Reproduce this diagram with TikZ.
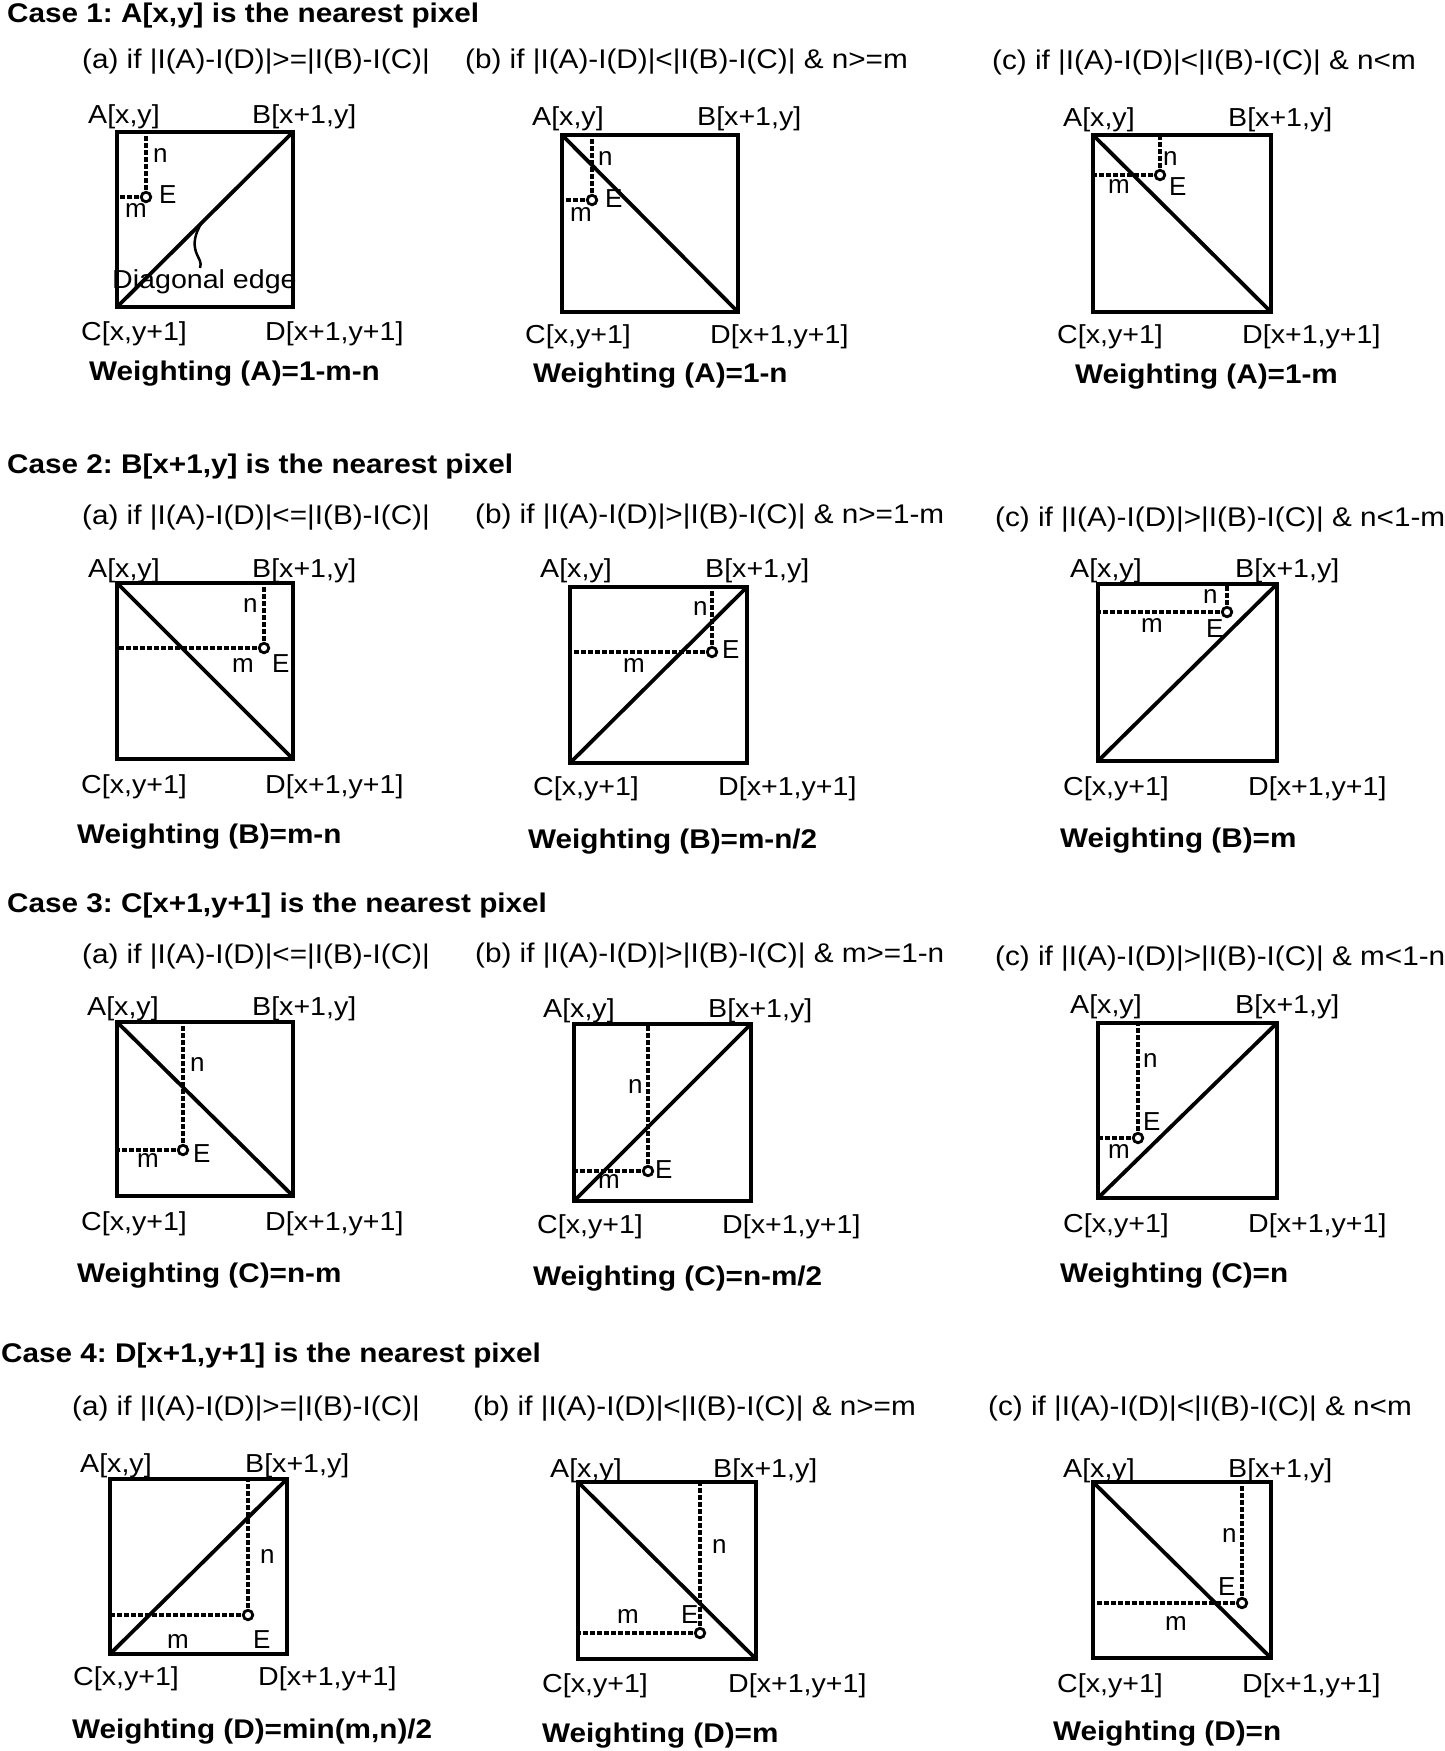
\documentclass[tikz,border=0pt]{standalone}
\usepackage{fontspec}
\setmainfont{Liberation Sans}[FakeStretch=1.1]
\newfontfamily\plainsans{Liberation Sans}
\usetikzlibrary{calc}
\begin{document}
\frenchspacing
\begin{tikzpicture}[x=1pt,y=-1pt]
\tikzset{
  sqbox/.style={line width=4pt, line join=miter},
  diag/.style={line width=3.8pt, line cap=round},
  dline/.style={line width=3.4pt, dash pattern=on 5pt off 2pt},
  epoint/.style={circle, draw, line width=2.8pt, fill=white, inner sep=0pt, minimum size=9.5pt},
  ttl/.style={anchor=base west, inner sep=0pt, font=\fontsize{27}{32}\selectfont\bfseries},
  subcap/.style={anchor=base west, inner sep=0pt, font=\fontsize{27}{32}\selectfont},
  lbl/.style={anchor=base west, inner sep=0pt, font=\fontsize{26}{30}\selectfont},
  wgt/.style={anchor=base west, inner sep=0pt, font=\fontsize{27}{32}\selectfont\bfseries},
  sml/.style={anchor=base west, inner sep=0pt, font=\plainsans\fontsize{26}{30}\selectfont},
  leader/.style={line width=2.5pt}
}
\newcommand{\Panel}[9]{%
  \coordinate (#1-A) at (#2,#3);
  \coordinate (#1-B) at (#4,#3);
  \coordinate (#1-C) at (#2,#5);
  \coordinate (#1-D) at (#4,#5);
  \coordinate (#1-e) at (#8,#9);
  \draw[dline] (#1-e) -- (#1-e |- #1-A);
  \draw[dline] (#1-e) -- (#1-e -| #1-A);
  \draw[sqbox] (#1-A) rectangle (#1-D);
  \draw[diag] (#1-#6) -- (#1-#7);
  \node[epoint] (#1-E) at (#1-e) {};
}
\newcommand{\Corners}[7]{%
  \node[lbl] (#1-lA) at (#2,#3) {A[x,y]};
  \node[lbl] (#1-lB) at (#4,#3) {B[x+1,y]};
  \node[lbl] (#1-lC) at (#5,#6) {C[x,y+1]};
  \node[lbl] (#1-lD) at (#7,#6) {D[x+1,y+1]};
}
\newcommand{\NME}[7]{%
  \node[sml] (#1-n) at (#2,#3) {n};
  \node[sml] (#1-m) at (#4,#5) {m};
  \node[sml] (#1-lE) at (#6,#7) {E};
}
\fill[white] (0,0) rectangle (1445,1751);
\useasboundingbox (0,0) rectangle (1445,1751);

% ---------------- Case 1 ----------------
\node[ttl] (t1) at (7,22) {Case 1: A[x,y] is the nearest pixel};

\node[subcap] (p1a-s) at (82,68) {(a) if |I(A)-I(D)|>=|I(B)-I(C)|};
\Panel{p1a}{117}{132}{293}{307}{C}{B}{146}{197}
\Corners{p1a}{88}{123}{252}{81}{340}{265}
\NME{p1a}{153}{162}{125}{217}{159}{203}
\node[lbl] (p1a-dg) at (112,288) {Diagonal edge};
\coordinate (p1a-q) at ($(p1a-C)!0.48!(p1a-B)$);
\coordinate (p1a-r) at (200,268);
\draw[leader] (p1a-q) .. controls (195,234) and (193,243) .. (196,252) .. controls (199,260) and (202,262) .. (p1a-r);
\node[wgt] (p1a-w) at (89,380) {Weighting (A)=1-m-n};

\node[subcap] (p1b-s) at (465,68) {(b) if |I(A)-I(D)|<|I(B)-I(C)| \& n>=m};
\Panel{p1b}{562}{135}{738}{312}{A}{D}{592}{200}
\Corners{p1b}{532}{125}{697}{525}{343}{710}
\NME{p1b}{598}{165}{570}{221}{605}{207}
\node[wgt] (p1b-w) at (533,382) {Weighting (A)=1-n};

\node[subcap] (p1c-s) at (992,69) {(c) if |I(A)-I(D)|<|I(B)-I(C)| \& n<m};
\Panel{p1c}{1093}{135}{1271}{312}{A}{D}{1160}{175}
\Corners{p1c}{1063}{126}{1228}{1057}{343}{1242}
\NME{p1c}{1163}{165}{1108}{193}{1169}{195}
\node[wgt] (p1c-w) at (1075,383) {Weighting (A)=1-m};

% ---------------- Case 2 ----------------
\node[ttl] (t2) at (7,473) {Case 2: B[x+1,y] is the nearest pixel};

\node[subcap] (p2a-s) at (82,524) {(a) if |I(A)-I(D)|<=|I(B)-I(C)|};
\Panel{p2a}{117}{583}{293}{759}{A}{D}{264}{648}
\Corners{p2a}{88}{577}{252}{81}{793}{265}
\NME{p2a}{243}{612}{232}{672}{272}{672}
\node[wgt] (p2a-w) at (77,843) {Weighting (B)=m-n};

\node[subcap] (p2b-s) at (475,523) {(b) if |I(A)-I(D)|>|I(B)-I(C)| \& n>=1-m};
\Panel{p2b}{570}{587}{747}{763}{C}{B}{712}{652}
\Corners{p2b}{540}{577}{705}{533}{795}{718}
\NME{p2b}{693}{615}{623}{672}{722}{658}
\node[wgt] (p2b-w) at (528,848) {Weighting (B)=m-n/2};

\node[subcap] (p2c-s) at (995,526) {(c) if |I(A)-I(D)|>|I(B)-I(C)| \& n<1-m};
\Panel{p2c}{1098}{584}{1277}{761}{C}{B}{1227}{612}
\Corners{p2c}{1070}{577}{1235}{1063}{795}{1248}
\NME{p2c}{1203}{603}{1141}{632}{1206}{637}
\node[wgt] (p2c-w) at (1060,847) {Weighting (B)=m};

% ---------------- Case 3 ----------------
\node[ttl] (t3) at (7,912) {Case 3: C[x+1,y+1] is the nearest pixel};

\node[subcap] (p3a-s) at (82,963) {(a) if |I(A)-I(D)|<=|I(B)-I(C)|};
\Panel{p3a}{117}{1022}{293}{1196}{A}{D}{183}{1150}
\Corners{p3a}{87}{1015}{252}{81}{1230}{265}
\NME{p3a}{190}{1071}{137}{1167}{193}{1162}
\node[wgt] (p3a-w) at (77,1282) {Weighting (C)=n-m};

\node[subcap] (p3b-s) at (475,962) {(b) if |I(A)-I(D)|>|I(B)-I(C)| \& m>=1-n};
\Panel{p3b}{574}{1024}{751}{1201}{C}{B}{648}{1171}
\Corners{p3b}{543}{1017}{708}{537}{1233}{722}
\NME{p3b}{628}{1093}{598}{1188}{655}{1178}
\node[wgt] (p3b-w) at (533,1285) {Weighting (C)=n-m/2};

\node[subcap] (p3c-s) at (995,965) {(c) if |I(A)-I(D)|>|I(B)-I(C)| \& m<1-n};
\Panel{p3c}{1098}{1023}{1277}{1198}{C}{B}{1138}{1138}
\Corners{p3c}{1070}{1013}{1235}{1063}{1232}{1248}
\NME{p3c}{1143}{1067}{1108}{1158}{1143}{1130}
\node[wgt] (p3c-w) at (1060,1282) {Weighting (C)=n};

% ---------------- Case 4 ----------------
\node[ttl] (t4) at (1,1362) {Case 4: D[x+1,y+1] is the nearest pixel};

\node[subcap] (p4a-s) at (72,1415) {(a) if |I(A)-I(D)|>=|I(B)-I(C)|};
\Panel{p4a}{110}{1479}{287}{1654}{C}{B}{248}{1615}
\Corners{p4a}{80}{1472}{245}{73}{1685}{258}
\NME{p4a}{260}{1563}{167}{1648}{253}{1648}
\node[wgt] (p4a-w) at (72,1738) {Weighting (D)=min(m,n)/2};

\node[subcap] (p4b-s) at (473,1415) {(b) if |I(A)-I(D)|<|I(B)-I(C)| \& n>=m};
\Panel{p4b}{578}{1482}{756}{1659}{A}{D}{700}{1633}
\Corners{p4b}{550}{1477}{713}{542}{1692}{728}
\NME{p4b}{712}{1553}{617}{1623}{681}{1623}
\node[wgt] (p4b-w) at (542,1742) {Weighting (D)=m};

\node[subcap] (p4c-s) at (988,1415) {(c) if |I(A)-I(D)|<|I(B)-I(C)| \& n<m};
\Panel{p4c}{1093}{1482}{1271}{1658}{A}{D}{1242}{1603}
\Corners{p4c}{1063}{1477}{1228}{1057}{1692}{1242}
\NME{p4c}{1222}{1542}{1165}{1630}{1218}{1595}
\node[wgt] (p4c-w) at (1053,1740) {Weighting (D)=n};
\end{tikzpicture}
\end{document}
